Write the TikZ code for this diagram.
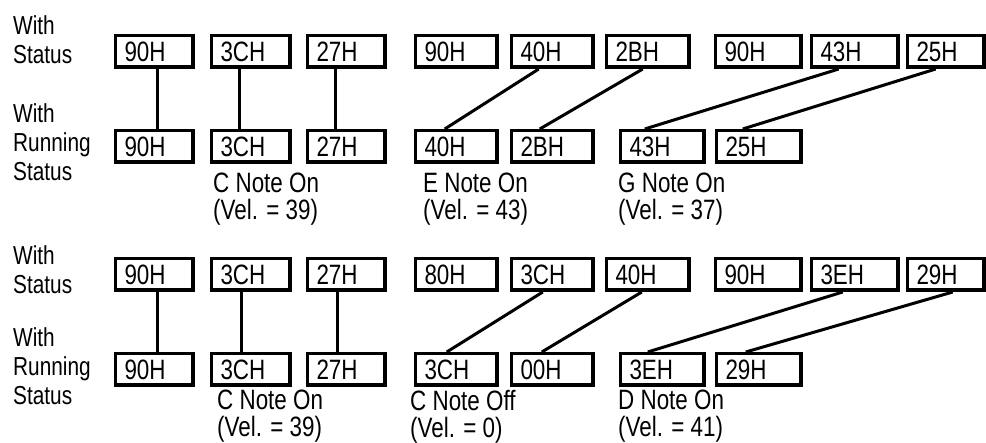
\documentclass[tikz,border=0pt]{standalone}
\usepackage{fontspec}
\setmainfont{Liberation Sans}[FakeStretch=0.8]
\usetikzlibrary{positioning, calc}

\begin{document}
\begin{tikzpicture}[x=1pt, y=-1pt,
  byte/.style={draw, line width=3.5pt, anchor=west, minimum height=31.5pt, inner xsep=9pt, inner ysep=0pt, text height=20pt, text depth=0pt, align=left, text width=#1, font=\fontsize{28}{30}\selectfont},
  byte/.default=59.5pt,
  link/.style={line width=3pt},
  note/.style={anchor=north west, align=left, inner sep=0pt, font=\fontsize{28}{27}\selectfont},
  side/.style={anchor=north west, align=left, inner sep=0pt, font=\fontsize{26}{29}\selectfont}
]
  \useasboundingbox (0,0) rectangle (986,443);

  % first example
  \node[side] (wst) at (13, 15) {With\\Status};
  \node[side] (wrt) at (13, 103) {With\\Running\\Status};

  \node[byte] (st1) at (113.75, 51.5) {90H};
  \node[byte=60.5pt] (st2) at (209.75, 51.5) {3CH};
  \node[byte] (st3) at (305.75, 51.5) {27H};
  \node[byte=63.5pt] (st4) at (413.75, 51.5) {90H};
  \node[byte=63.5pt] (st5) at (509.75, 51.5) {40H};
  \node[byte=64.5pt] (st6) at (604.75, 51.5) {2BH};
  \node[byte=67.5pt] (st7) at (713.75, 51.5) {90H};
  \node[byte=68.5pt] (st8) at (809.75, 51.5) {43H};
  \node[byte=58.5pt] (st9) at (905.75, 51.5) {25H};

  \node[byte] (rt1) at (113.75, 146.5) {90H};
  \node[byte=60.5pt] (rt2) at (209.75, 146.5) {3CH};
  \node[byte] (rt3) at (305.75, 146.5) {27H};
  \node[byte=63.5pt] (rt4) at (413.75, 146.5) {40H};
  \node[byte=63.5pt] (rt5) at (509.75, 146.5) {2BH};
  \node[byte=65.5pt] (rt6) at (618.75, 146.5) {43H};
  \node[byte=66.5pt] (rt7) at (714.75, 146.5) {25H};

  \draw[link] ([xshift=44pt]st1.south west) -- ([xshift=44pt]rt1.north west);
  \draw[link] ([xshift=30pt]st2.south west) -- ([xshift=30pt]rt2.north west);
  \draw[link] ([xshift=30pt]st3.south west) -- ([xshift=30pt]rt3.north west);
  \draw[link] ([xshift=29pt]st5.south west) -- ([xshift=31pt]rt4.north west);
  \draw[link] ([xshift=38pt]st6.south west) -- ([xshift=30pt]rt5.north west);
  \draw[link] ([xshift=29pt]st8.south west) -- ([xshift=26pt]rt6.north west);
  \draw[link] ([xshift=30pt]st9.south west) -- ([xshift=28pt]rt7.north west);

  \node[note] (nt1) at (213, 173) {C Note On\\(Vel. = 39)};
  \node[note] (nt2) at (423, 173) {E Note On\\(Vel. = 43)};
  \node[note] (nt3) at (618, 173) {G Note On\\(Vel. = 37)};

  % second example
  \node[side] (wsb) at (13, 245) {With\\Status};
  \node[side] (wrb) at (13, 327) {With\\Running\\Status};

  \node[byte] (sb1) at (113.75, 274.5) {90H};
  \node[byte=60.5pt] (sb2) at (209.75, 274.5) {3CH};
  \node[byte] (sb3) at (305.75, 274.5) {27H};
  \node[byte=63.5pt] (sb4) at (413.75, 274.5) {80H};
  \node[byte=63.5pt] (sb5) at (509.75, 274.5) {3CH};
  \node[byte=64.5pt] (sb6) at (604.75, 274.5) {40H};
  \node[byte=67.5pt] (sb7) at (713.75, 274.5) {90H};
  \node[byte=68.5pt] (sb8) at (809.75, 274.5) {3EH};
  \node[byte=58.5pt] (sb9) at (905.75, 274.5) {29H};

  \node[byte] (rb1) at (113.75, 369.5) {90H};
  \node[byte=60.5pt] (rb2) at (209.75, 369.5) {3CH};
  \node[byte] (rb3) at (305.75, 369.5) {27H};
  \node[byte=63.5pt] (rb4) at (413.75, 369.5) {3CH};
  \node[byte=63.5pt] (rb5) at (509.75, 369.5) {00H};
  \node[byte=65.5pt] (rb6) at (618.75, 369.5) {3EH};
  \node[byte=66.5pt] (rb7) at (714.75, 369.5) {29H};

  \draw[link] ([xshift=44pt]sb1.south west) -- ([xshift=44pt]rb1.north west);
  \draw[link] ([xshift=32pt]sb2.south west) -- ([xshift=32pt]rb2.north west);
  \draw[link] ([xshift=32pt]sb3.south west) -- ([xshift=32pt]rb3.north west);
  \draw[link] ([xshift=33pt]sb5.south west) -- ([xshift=33pt]rb4.north west);
  \draw[link] ([xshift=37pt]sb6.south west) -- ([xshift=32pt]rb5.north west);
  \draw[link] ([xshift=33pt]sb8.south west) -- ([xshift=29pt]rb6.north west);
  \draw[link] ([xshift=47pt]sb9.south west) -- ([xshift=31pt]rb7.north west);

  \node[note] (nb1) at (217, 390) {C Note On\\(Vel. = 39)};
  \node[note] (nb2) at (410, 390) {C Note Off\\(Vel. = 0)};
  \node[note] (nb3) at (618, 390) {D Note On\\(Vel. = 41)};
\end{tikzpicture}
\end{document}
